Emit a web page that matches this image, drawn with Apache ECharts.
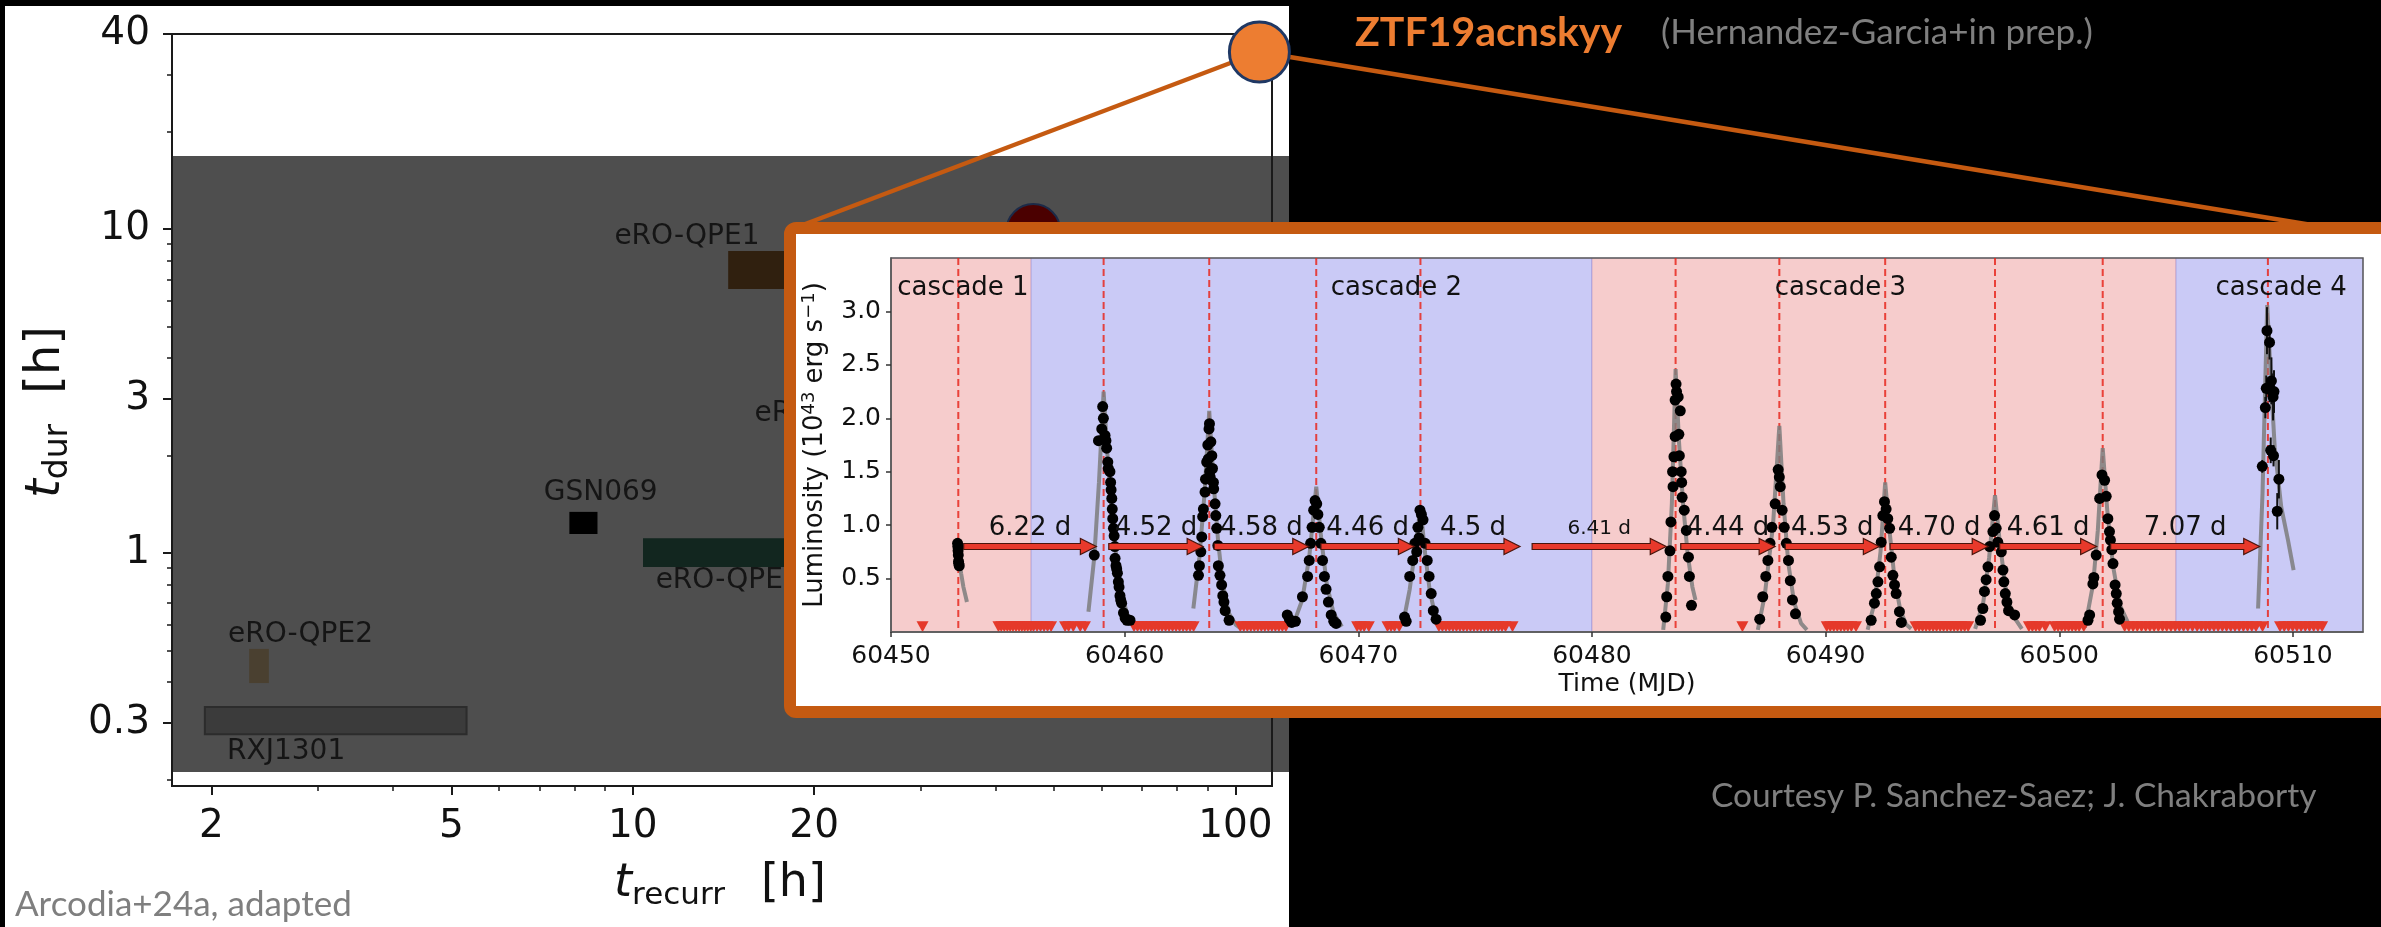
<!DOCTYPE html>
<html>
<head>
<meta charset="utf-8">
<title>QPE recurrence vs duration, with ZTF19acnskyy light curve</title>
<script src="https://cdn.jsdelivr.net/npm/echarts@6.0.0/dist/echarts.min.js"></script>
<style>
  html, body { margin: 0; padding: 0; background: #000; }
  #chart { width: 2381px; height: 927px; }
</style>
</head>
<body>
<div id="chart"></div>
<script>
// ---------- main panel: QPE sources in the t_recurr / t_dur plane ----------
const recurrTicks = [2, 5, 10, 20, 100];
const recurrMinorTicks = [3, 4, 6, 7, 8, 9, 30, 40, 50, 60, 70, 80, 90];
const durTicks = [0.3, 1, 3, 10, 40];
const durMinorTicks = [0.2, 0.4, 0.5, 0.6, 0.7, 0.8, 0.9, 2, 4, 5, 6, 7, 8, 9, 20, 30];

// boxes: [t_recurr low, t_recurr high] and [t_dur low, t_dur high], in hours
const sourceNames  = ['RXJ1301', 'eRO-QPE2', 'GSN069', 'eRO-QPE3', 'eRO-QPE1'];
const sourceRecurr = [[1.95, 5.30], [2.31, 2.49], [7.85, 8.74], [10.4, 25.0], [14.4, 26.0]];
const sourceDur    = [[0.276, 0.335], [0.397, 0.506], [1.145, 1.34], [0.905, 1.11], [6.53, 8.55]];

// name tags, anchored in data units
const tagNames  = ['RXJ1301', 'eRO-QPE2', 'GSN069', 'eRO-QPE3', 'eRO-QPE1', 'eRO-QPE4'];
const tagRecurr = [2.66, 2.81, 8.85, 14.4, 12.3, 21.0];
const tagDur    = [0.243, 0.558, 1.54, 0.82, 9.45, 2.70];

const discSource = [[46.2, 9.86]];      // dark red disc
const ztfSource  = [[109.6, 35.2]];     // ZTF19acnskyy

// ---------- inset: ZTF19acnskyy X-ray light curve ----------
const mjdTicks = [60450, 60460, 60470, 60480, 60490, 60500, 60510];
const lumTicks = [0.5, 1.0, 1.5, 2.0, 2.5, 3.0];

const cascadeNames  = ['cascade 1', 'cascade 2', 'cascade 3', 'cascade 4'];
const cascadeSpans  = [[60450, 60456], [60456, 60480], [60480, 60505], [60505, 60513]];
const cascadeTagMjd = [60453.08, 60471.63, 60490.63, 60509.50];
const cascadeTagLum = [3.22, 3.22, 3.22, 3.22];

const flarePeaks = [60452.88, 60459.10, 60463.62, 60468.20, 60472.66, 60483.58,
                    60488.02, 60492.55, 60497.25, 60501.86, 60508.93];

// waiting-time arrows: start, end, luminosity level, label level, label
const arrowStart = [60453.11, 60459.32, 60463.83, 60468.40, 60472.90, 60477.44,
                    60483.80, 60488.27, 60492.76, 60497.45, 60502.20];
const arrowEnd   = [60458.79, 60463.36, 60467.88, 60472.40, 60476.92, 60483.18,
                    60487.84, 60492.30, 60496.96, 60501.60, 60508.58];
const arrowLum   = [0.8, 0.8, 0.8, 0.8, 0.8, 0.8, 0.8, 0.8, 0.8, 0.8, 0.8];
const arrowTextLum = [0.97, 0.97, 0.97, 0.97, 0.97, 0.97, 0.97, 0.97, 0.97, 0.97, 0.97];
const arrowText  = ['6.22 d', '4.52 d', '4.58 d', '4.46 d', '4.5 d', '6.41 d',
                    '4.44 d', '4.53 d', '4.70 d', '4.61 d', '7.07 d'];

// detections [MJD, L (1e43 erg/s)]
const flare1 = [[60452.85,0.83],[60452.86,0.80],[60452.87,0.76],[60452.88,0.72],[60452.89,0.66],[60452.90,0.64],[60452.92,0.62]];
const flare2 = [[60458.70,0.72],[60458.88,1.79],[60459.02,1.90],[60459.06,2.11],[60459.09,2.00],[60459.16,1.84],[60459.20,1.79],
                [60459.23,1.72],[60459.28,1.59],[60459.30,1.53],[60459.37,1.50],[60459.40,1.40],[60459.42,1.33],[60459.45,1.25],
                [60459.47,1.15],[60459.49,1.06],[60459.52,0.97],[60459.55,0.90],[60459.58,0.80],[60459.59,0.69],[60459.63,0.62],
                [60459.66,0.59],[60459.69,0.55],[60459.73,0.47],[60459.76,0.42],[60459.80,0.34],[60459.83,0.30],[60459.87,0.27],
                [60459.95,0.18],[60460.02,0.13],[60460.10,0.11],[60460.23,0.11]];
const flare3 = [[60463.16,0.53],[60463.20,0.62],[60463.26,0.75],[60463.30,0.89],[60463.34,1.08],[60463.37,1.15],[60463.44,1.31],
                [60463.46,1.43],[60463.51,1.59],[60463.56,1.75],[60463.58,1.62],[60463.61,1.90],[60463.63,1.95],[60463.64,1.50],
                [60463.66,1.45],[60463.69,1.78],[60463.73,1.65],[60463.76,1.53],[60463.80,1.40],[60463.81,1.34],[60463.87,1.20],
                [60463.90,1.09],[60463.94,0.97],[60463.99,0.81],[60464.01,0.62],[60464.08,0.53],[60464.15,0.44],[60464.20,0.34],
                [60464.25,0.28],[60464.30,0.20],[60464.47,0.11]];
const flare4 = [[60466.96,0.16],[60467.05,0.12],[60467.15,0.09],[60467.31,0.10],[60467.61,0.33],[60467.83,0.52],[60467.90,0.67],
                [60467.96,0.83],[60468.02,0.98],[60468.09,1.14],[60468.15,1.23],[60468.22,1.20],[60468.27,1.10],[60468.33,0.98],
                [60468.40,0.83],[60468.47,0.67],[60468.55,0.52],[60468.62,0.40],[60468.72,0.28],[60468.84,0.16],[60468.95,0.10],
                [60469.05,0.08]];
const flare5 = [[60471.98,0.14],[60472.05,0.10],[60472.20,0.52],[60472.33,0.67],[60472.42,0.83],[60472.50,0.75],[60472.55,0.98],
                [60472.60,0.88],[60472.64,1.14],[60472.70,1.10],[60472.77,1.05],[60472.86,0.83],[60472.95,0.67],[60473.03,0.52],
                [60473.12,0.36],[60473.21,0.20],[60473.33,0.12]];
const flare6 = [[60483.16,0.14],[60483.20,0.33],[60483.25,0.52],[60483.34,0.76],[60483.38,1.03],[60483.45,1.50],[60483.47,1.36],
                [60483.51,1.64],[60483.56,1.83],[60483.56,2.17],[60483.60,2.32],[60483.62,2.25],[60483.69,2.20],[60483.72,1.85],
                [60483.74,1.65],[60483.78,2.07],[60483.82,1.50],[60483.84,1.40],[60483.86,1.26],[60483.95,1.14],[60484.04,0.95],
                [60484.13,0.70],[60484.17,0.52],[60484.26,0.25]];
const flare7 = [[60487.18,0.12],[60487.31,0.33],[60487.44,0.52],[60487.53,0.67],[60487.62,0.83],[60487.70,0.98],[60487.84,1.20],
                [60487.97,1.52],[60488.02,1.45],[60488.06,1.36],[60488.14,1.14],[60488.23,0.98],[60488.32,0.83],[60488.41,0.67],
                [60488.49,0.48],[60488.58,0.30],[60488.71,0.17]];
const flare8 = [[60491.95,0.11],[60492.09,0.27],[60492.17,0.36],[60492.24,0.47],[60492.31,0.61],[60492.38,0.84],[60492.45,1.09],
                [60492.52,1.22],[60492.59,1.15],[60492.66,1.06],[60492.74,0.97],[60492.81,0.70],[60492.88,0.53],[60492.95,0.44],
                [60493.02,0.36],[60493.16,0.19],[60493.24,0.09]];
const flare9 = [[60496.63,0.11],[60496.73,0.22],[60496.80,0.38],[60496.87,0.49],[60496.95,0.61],[60497.02,0.80],[60497.16,0.94],
                [60497.23,1.09],[60497.30,0.97],[60497.37,0.84],[60497.52,0.75],[60497.59,0.58],[60497.63,0.47],[60497.69,0.36],
                [60497.76,0.28],[60497.83,0.20],[60498.09,0.16]];
const flare10 = [[60501.23,0.11],[60501.30,0.16],[60501.44,0.45],[60501.48,0.51],[60501.58,0.72],[60501.73,1.25],[60501.83,1.47],
                 [60501.94,1.42],[60502.01,1.27],[60502.08,1.06],[60502.15,0.94],[60502.19,0.86],[60502.25,0.77],[60502.30,0.64],
                 [60502.39,0.44],[60502.44,0.36],[60502.48,0.27],[60502.54,0.19],[60502.58,0.12]];
// cascade 4 detections with 1-sigma errors: [MJD, L, err]
const flare11 = [[60508.69,1.55,0.06],[60508.82,2.10,0.10],[60508.86,2.28,0.12],[60508.89,2.82,0.22],[60509.00,2.71,0.16],
                 [60509.00,2.27,0.12],[60509.05,1.70,0.12],[60509.08,2.35,0.22],[60509.15,2.20,0.22],[60509.17,1.65,0.10],
                 [60509.19,2.25,0.20],[60509.33,1.13,0.17],[60509.40,1.43,0.18]];

// best-fit flare profiles [MJD, L]
const modelCurves = [
  [[60452.90,0.72],[60453.00,0.55],[60453.10,0.42],[60453.25,0.28]],
  [[60458.45,0.19],[60458.70,0.70],[60458.90,1.40],[60459.10,2.25],[60459.25,1.70],[60459.45,1.12],[60459.65,0.68],[60459.85,0.38],[60460.10,0.17],[60460.47,0.06]],
  [[60462.94,0.22],[60463.20,0.70],[60463.42,1.30],[60463.62,2.07],[60463.80,1.42],[60464.00,0.85],[60464.20,0.45],[60464.45,0.18],[60464.75,0.07],[60465.00,0.03]],
  [[60467.30,0.12],[60467.60,0.30],[60467.90,0.70],[60468.20,1.36],[60468.40,0.90],[60468.65,0.45],[60468.95,0.17],[60469.30,0.05]],
  [[60471.90,0.06],[60472.20,0.40],[60472.45,0.80],[60472.66,1.17],[60472.85,0.75],[60473.05,0.40],[60473.30,0.14],[60473.55,0.04]],
  [[60483.05,0.02],[60483.25,0.45],[60483.42,1.20],[60483.58,2.46],[60483.72,1.80],[60483.90,1.20],[60484.10,0.72],[60484.30,0.42],[60484.43,0.30]],
  [[60487.10,0.02],[60487.40,0.35],[60487.75,1.00],[60488.02,1.93],[60488.20,1.20],[60488.40,0.65],[60488.65,0.28],[60488.95,0.08],[60489.20,0.02]],
  [[60491.80,0.02],[60492.10,0.28],[60492.35,0.75],[60492.55,1.40],[60492.72,0.98],[60492.95,0.50],[60493.20,0.20],[60493.45,0.07],[60493.66,0.03]],
  [[60496.40,0.03],[60496.75,0.28],[60497.00,0.70],[60497.25,1.28],[60497.45,0.85],[60497.70,0.42],[60498.00,0.16],[60498.40,0.03]],
  [[60501.10,0.04],[60501.45,0.45],[60501.65,0.95],[60501.86,1.72],[60502.05,1.15],[60502.30,0.62],[60502.60,0.25],[60503.00,0.06]],
  [[60508.51,0.22],[60508.70,1.30],[60508.90,3.06],[60509.05,2.40],[60509.22,1.73],[60509.50,1.17],[60509.79,0.86],[60510.03,0.58]]
];

// non-detections (upper limits)
const upperLimitMjd = [
  60451.35,
  60454.60, 60454.72, 60454.85, 60454.98, 60455.10, 60455.22, 60455.35, 60455.48, 60455.60, 60455.72, 60455.85, 60455.98, 60456.10,
  60456.25, 60456.40, 60456.55, 60456.70, 60456.85,
  60457.45, 60457.60, 60457.80, 60458.10, 60458.30,
  60460.40, 60460.55, 60460.70, 60460.85, 60461.00, 60461.15, 60461.30, 60461.45, 60461.60, 60461.75, 60461.90, 60462.05,
  60462.20, 60462.35, 60462.50, 60462.65, 60462.80, 60462.95,
  60464.95, 60465.10, 60465.25, 60465.40, 60465.55, 60465.70, 60465.85, 60466.00, 60466.15, 60466.30, 60466.45, 60466.60,
  60466.75, 60466.90,
  60469.95, 60470.10, 60470.25, 60470.45, 60471.25, 60471.40, 60471.55, 60471.75,
  60473.45, 60473.60, 60473.75, 60473.90, 60474.05, 60474.20, 60474.35, 60474.50, 60474.65, 60474.80, 60474.95, 60475.10,
  60475.25, 60475.40, 60475.55, 60475.70, 60475.85, 60476.00, 60476.15, 60476.30, 60476.60,
  60486.44,
  60490.05, 60490.20, 60490.35, 60490.50, 60490.65, 60490.80, 60490.95, 60491.10, 60491.30,
  60493.85, 60494.00, 60494.15, 60494.30, 60494.45, 60494.60, 60494.75, 60494.90, 60495.05, 60495.20, 60495.35, 60495.50,
  60495.65, 60495.80, 60495.95, 60496.10,
  60498.70, 60498.85, 60499.00, 60499.15, 60499.40, 60499.80, 60499.95, 60500.10, 60500.25, 60500.40, 60500.55, 60500.70,
  60500.85, 60501.05,
  60502.80, 60502.98, 60503.16, 60503.34, 60503.52, 60503.70, 60503.88, 60504.06, 60504.24, 60504.42, 60504.60, 60504.78,
  60504.96, 60505.14, 60505.32, 60505.50, 60505.70,
  60505.90, 60506.08, 60506.26, 60506.44, 60506.62, 60506.80, 60506.98, 60507.16, 60507.34, 60507.52, 60507.70, 60507.88,
  60508.06, 60508.24, 60508.42, 60508.70,
  60509.45, 60509.63, 60509.81, 60509.99, 60510.17, 60510.35, 60510.53, 60510.71, 60510.89, 60511.07, 60511.25
];
const upperLimitLum = 0.05;

// ---------- styles ----------
const FONT = 'DejaVu Sans';
const NOTE_FONT = 'Lato';
const ORANGE = '#ed7d31';
const BORDER_ORANGE = '#c55a11';
const sourceFill = { 'RXJ1301': '#3b3b3b', 'eRO-QPE2': '#4a4030', 'GSN069': '#000000', 'eRO-QPE3': '#12261f', 'eRO-QPE1': '#30200f' };
const sourceStroke = { 'RXJ1301': '#2c2c2c' };
const spanFill = ['#f6cccc', '#cacaf6', '#f6cccc', '#cacaf6'];
const smallArrowLabel = { '6.41 d': 20 };

const chart = echarts.init(document.getElementById('chart'), null, { renderer: 'canvas', width: 2381, height: 927 });

const fmtNum = v => String(+Number(v).toPrecision(3));

function logAxisBase(extra) {
  return Object.assign({
    type: 'log', logBase: 10, splitLine: { show: false }, minorTick: { show: false },
    axisLine: { show: true, lineStyle: { color: '#1a1a1a', width: 2 } },
    z: 1, silent: true
  }, extra);
}

const flareDetections = [].concat(flare1, flare2, flare3, flare4, flare5, flare6, flare7, flare8, flare9, flare10,
                                  flare11.map(d => [d[0], d[1]]));

const option = {
  backgroundColor: '#000000',
  animation: false,
  textStyle: { fontFamily: FONT },
  grid: [
    { left: 172, top: 34, width: 1100, height: 752, show: true, borderColor: '#1a1a1a', borderWidth: 2,
      backgroundColor: 'transparent', containLabel: false, outerBoundsMode: 'none', z: 0 },
    { left: 891, top: 258, width: 1472, height: 374, show: true, borderColor: '#5a5a5a', borderWidth: 1.5,
      backgroundColor: 'transparent', containLabel: false, outerBoundsMode: 'none', z: 52 }
  ],
  xAxis: [
    logAxisBase({
      gridIndex: 0, position: 'bottom', min: 1.72, max: 115,
      axisTick: { show: true, customValues: recurrTicks, length: 9, lineStyle: { color: '#1a1a1a', width: 2 } },
      axisLabel: { show: true, customValues: recurrTicks, formatter: fmtNum, fontSize: 39, color: '#111', margin: 21, fontFamily: FONT }
    }),
    logAxisBase({
      gridIndex: 0, position: 'bottom', min: 1.72, max: 115,
      axisLine: { show: false },
      axisTick: { show: true, customValues: recurrMinorTicks, length: 5, lineStyle: { color: '#1a1a1a', width: 1.5 } },
      axisLabel: { show: false }
    }),
    {
      type: 'value', gridIndex: 1, position: 'bottom', min: 60450, max: 60513, z: 60, silent: true,
      splitLine: { show: false },
      axisLine: { show: true, lineStyle: { color: '#5a5a5a', width: 1.5 } },
      axisTick: { show: true, customValues: mjdTicks, length: 5, lineStyle: { color: '#333', width: 1.5 } },
      axisLabel: { show: true, customValues: mjdTicks, fontSize: 25, color: '#111', margin: 12, fontFamily: FONT,
                   formatter: v => String(Math.round(v)) },
      name: 'Time (MJD)', nameLocation: 'middle', nameGap: 40,
      nameTextStyle: { fontSize: 25, color: '#111', fontFamily: FONT }
    }
  ],
  yAxis: [
    logAxisBase({
      gridIndex: 0, position: 'left', min: 0.191, max: 40,
      axisTick: { show: true, customValues: durTicks, length: 9, lineStyle: { color: '#1a1a1a', width: 2 } },
      axisLabel: { show: true, customValues: durTicks, formatter: fmtNum, fontSize: 39, color: '#111', margin: 22, fontFamily: FONT }
    }),
    logAxisBase({
      gridIndex: 0, position: 'left', min: 0.191, max: 40,
      axisLine: { show: false },
      axisTick: { show: true, customValues: durMinorTicks, length: 5, lineStyle: { color: '#1a1a1a', width: 1.5 } },
      axisLabel: { show: false }
    }),
    {
      type: 'value', gridIndex: 1, position: 'left', min: 0, max: 3.5, z: 60, silent: true,
      splitLine: { show: false },
      axisLine: { show: true, lineStyle: { color: '#5a5a5a', width: 1.5 } },
      axisTick: { show: true, customValues: lumTicks, length: 5, lineStyle: { color: '#333', width: 1.5 } },
      axisLabel: { show: true, customValues: lumTicks, fontSize: 25, color: '#111', margin: 10, fontFamily: FONT,
                   formatter: v => Number(v).toFixed(1) },
      name: 'Luminosity (10{sup|43} erg s{sup|\u22121})', nameLocation: 'middle', nameGap: 58, nameRotate: 90,
      nameTextStyle: {
        fontSize: 26, color: '#111', fontFamily: FONT, lineHeight: 30,
        rich: { sup: { fontSize: 18, fontFamily: FONT, color: '#111', lineHeight: 18, verticalAlign: 'top' } }
      }
    }
  ],
  graphic: {
    elements: [
      { id: 'panel', type: 'rect', z: -20, silent: true,
        shape: { x: 5, y: 6, width: 1284, height: 921 }, style: { fill: '#ffffff' } },
      { id: 'shade', type: 'rect', z: -10, silent: true,
        shape: { x: 172, y: 156, width: 1117, height: 616 }, style: { fill: '#4e4e4e' } },
      { id: 'inset-frame', type: 'rect', z: 50, silent: true,
        shape: { x: 790, y: 228, width: 1610, height: 484, r: 6 },
        style: { fill: '#ffffff', stroke: BORDER_ORANGE, lineWidth: 12 } },
      { id: 'ytitle', type: 'text', z: 5, silent: true, x: 47, y: 412, rotation: Math.PI / 2,
        style: {
          text: '{t|t}{s|dur}{g|}{h|[h]}', align: 'center', verticalAlign: 'middle', fill: '#111',
          rich: {
            t: { fontSize: 48, fontStyle: 'italic', fontFamily: FONT, lineHeight: 56, verticalAlign: 'middle', fill: '#111' },
            s: { fontSize: 33, fontFamily: FONT, lineHeight: 22, verticalAlign: 'bottom', fill: '#111' },
            g: { width: 30, lineHeight: 56 },
            h: { fontSize: 48, fontFamily: FONT, lineHeight: 56, verticalAlign: 'middle', fill: '#111' }
          }
        } },
      { id: 'xtitle', type: 'text', z: 5, silent: true, x: 720, y: 884,
        style: {
          text: '{t|t}{s|recurr}{g|}{h|[h]}', align: 'center', verticalAlign: 'middle', fill: '#111',
          rich: {
            t: { fontSize: 46, fontStyle: 'italic', fontFamily: FONT, lineHeight: 54, verticalAlign: 'middle', fill: '#111' },
            s: { fontSize: 31, fontFamily: FONT, lineHeight: 20, verticalAlign: 'bottom', fill: '#111' },
            g: { width: 36, lineHeight: 54 },
            h: { fontSize: 46, fontFamily: FONT, lineHeight: 54, verticalAlign: 'middle', fill: '#111' }
          }
        } },
      { id: 'ztf-name', type: 'text', z: 60, silent: true, x: 1355, y: 33,
        style: { text: 'ZTF19acnskyy', font: 'bold 41px ' + NOTE_FONT, fill: ORANGE, align: 'left', verticalAlign: 'middle' } },
      { id: 'ztf-ref', type: 'text', z: 60, silent: true, x: 1661, y: 33,
        style: { text: '(Hernandez-Garcia+in prep.)', font: '35px ' + NOTE_FONT, fill: '#7f7f7f', align: 'left', verticalAlign: 'middle' } },
      { id: 'courtesy', type: 'text', z: 60, silent: true, x: 1711, y: 796,
        style: { text: 'Courtesy P. Sanchez-Saez; J. Chakraborty', font: '33.5px ' + NOTE_FONT, fill: '#7f7f7f', align: 'left', verticalAlign: 'middle' } },
      { id: 'credit', type: 'text', z: 60, silent: true, x: 15, y: 905,
        style: { text: 'Arcodia+24a, adapted', font: '35px ' + NOTE_FONT, fill: '#7f7f7f', align: 'left', verticalAlign: 'middle' } }
    ]
  },
  series: [
    // source boxes
    {
      name: 'sources', type: 'custom', xAxisIndex: 0, yAxisIndex: 0, z: 3, silent: true,
      data: sourceNames.map((n, i) => [sourceRecurr[i][0], sourceDur[i][0], sourceRecurr[i][1], sourceDur[i][1]]),
      encode: { x: [0, 2], y: [1, 3] },
      renderItem: (params, api) => {
        const name = sourceNames[params.dataIndex];
        const p0 = api.coord([api.value(0), api.value(3)]);
        const p1 = api.coord([api.value(2), api.value(1)]);
        return {
          type: 'rect',
          shape: { x: p0[0], y: p0[1], width: p1[0] - p0[0], height: p1[1] - p0[1] },
          style: { fill: sourceFill[name], stroke: sourceStroke[name] || null, lineWidth: sourceStroke[name] ? 2 : 0 }
        };
      }
    },
    // source name tags
    {
      name: 'source tags', type: 'custom', xAxisIndex: 0, yAxisIndex: 0, z: 4, silent: true,
      data: tagNames.map((n, i) => [tagRecurr[i], tagDur[i]]),
      renderItem: (params, api) => {
        const p = api.coord([api.value(0), api.value(1)]);
        return {
          type: 'text', x: p[0], y: p[1],
          style: { text: tagNames[params.dataIndex], font: '28px ' + FONT, fill: '#151515', align: 'center', verticalAlign: 'middle' }
        };
      }
    },
    {
      name: 'disc', type: 'scatter', xAxisIndex: 0, yAxisIndex: 0, z: 3, silent: true, clip: false,
      data: discSource, symbol: 'circle', symbolSize: 54,
      itemStyle: { color: '#4b0000', borderColor: '#1c2a48', borderWidth: 2, opacity: 1 }
    },
    {
      name: 'ZTF19acnskyy', type: 'scatter', xAxisIndex: 0, yAxisIndex: 0, z: 45, silent: true, clip: false,
      data: ztfSource, symbol: 'circle', symbolSize: 60,
      itemStyle: { color: ORANGE, borderColor: '#1f3864', borderWidth: 3, opacity: 1 }
    },
    // cascade spans
    {
      name: 'cascades', type: 'custom', xAxisIndex: 2, yAxisIndex: 2, z: 51, silent: true,
      data: cascadeSpans.map(s => [s[0], s[1]]),
      encode: { x: [0, 1] },
      renderItem: (params, api) => {
        const cs = params.coordSys;
        const a = api.coord([api.value(0), 0]);
        const b = api.coord([api.value(1), 0]);
        return {
          type: 'rect',
          shape: { x: a[0], y: cs.y, width: b[0] - a[0], height: cs.height },
          style: { fill: spanFill[params.dataIndex], stroke: 'rgba(120,100,190,0.35)', lineWidth: 1 }
        };
      }
    },
    // flare peak times
    {
      name: 'peaks', type: 'custom', xAxisIndex: 2, yAxisIndex: 2, z: 53, silent: true,
      data: flarePeaks.map(t => [t]),
      encode: { x: 0 },
      renderItem: (params, api) => {
        const cs = params.coordSys;
        const x = api.coord([api.value(0), 0])[0];
        return {
          type: 'line',
          shape: { x1: x, y1: cs.y, x2: x, y2: cs.y + cs.height },
          style: { stroke: 'rgba(232,40,30,0.85)', lineWidth: 2, lineDash: [7, 4] }
        };
      }
    },
    // fitted flare profiles
    ...modelCurves.map((c, i) => ({
      name: 'model ' + (i + 1), type: 'line', xAxisIndex: 2, yAxisIndex: 2, z: 54, silent: true,
      data: c, showSymbol: false, symbol: 'none',
      lineStyle: { color: 'rgba(125,125,125,0.85)', width: 4 }
    })),
    // upper limits
    {
      name: 'upper limits', type: 'scatter', xAxisIndex: 2, yAxisIndex: 2, z: 55, silent: true,
      data: upperLimitMjd.map(t => [t, upperLimitLum]),
      symbol: 'path://M0,0L10,0L5,9Z', symbolSize: [12, 11],
      itemStyle: { color: '#e5392a', opacity: 1 }
    },
    // error bars for cascade 4
    {
      name: 'errors', type: 'custom', xAxisIndex: 2, yAxisIndex: 2, z: 55, silent: true,
      data: flare11,
      renderItem: (params, api) => {
        const lo = api.coord([api.value(0), api.value(1) - api.value(2)]);
        const hi = api.coord([api.value(0), api.value(1) + api.value(2)]);
        return { type: 'line', shape: { x1: lo[0], y1: lo[1], x2: hi[0], y2: hi[1] }, style: { stroke: '#111', lineWidth: 2 } };
      }
    },
    // detections
    {
      name: 'detections', type: 'scatter', xAxisIndex: 2, yAxisIndex: 2, z: 56, silent: true,
      data: flareDetections, symbol: 'circle', symbolSize: 11,
      itemStyle: { color: '#000000', opacity: 1 }
    },
    // waiting-time arrows
    {
      name: 'arrows', type: 'custom', xAxisIndex: 2, yAxisIndex: 2, z: 57, silent: true,
      data: arrowStart.map((s, i) => [s, arrowEnd[i], arrowLum[i], arrowTextLum[i]]),
      encode: { x: [0, 1], y: 2 },
      renderItem: (params, api) => {
        const a = api.coord([api.value(0), api.value(2)]);
        const b = api.coord([api.value(1), api.value(2)]);
        const t = api.coord([(api.value(0) + api.value(1)) / 2, api.value(3)]);
        const y = a[1], x0 = a[0], x1 = b[0];
        const hl = 16, hw = 8, sw = 3;
        const label = arrowText[params.dataIndex];
        return {
          type: 'group',
          children: [
            { type: 'polygon',
              shape: { points: [[x0, y - sw], [x1 - hl, y - sw], [x1 - hl, y - hw], [x1, y], [x1 - hl, y + hw], [x1 - hl, y + sw], [x0, y + sw]] },
              style: { fill: '#e8392b', stroke: '#4a150c', lineWidth: 1.2 } },
            { type: 'text', x: t[0], y: t[1],
              style: { text: label, font: (smallArrowLabel[label] || 26) + 'px ' + FONT, fill: '#111', align: 'center', verticalAlign: 'middle' } }
          ]
        };
      }
    },
    // cascade labels
    {
      name: 'cascade tags', type: 'custom', xAxisIndex: 2, yAxisIndex: 2, z: 58, silent: true,
      data: cascadeTagMjd.map((t, i) => [t, cascadeTagLum[i]]),
      renderItem: (params, api) => {
        const p = api.coord([api.value(0), api.value(1)]);
        return {
          type: 'text', x: p[0], y: p[1],
          style: { text: cascadeNames[params.dataIndex], font: '26px ' + FONT, fill: '#111', align: 'center', verticalAlign: 'middle' }
        };
      }
    }
  ]
};

chart.setOption(option);

// leader lines from the ZTF19acnskyy marker to the inset's top corners
const ztfSeriesIndex = option.series.findIndex(s => s.name === 'ZTF19acnskyy');
const c = chart.convertToPixel({ seriesIndex: ztfSeriesIndex }, ztfSource[0]);
chart.setOption({
  graphic: {
    elements: [
      { id: 'lead-left', type: 'line', z: 40, silent: true,
        shape: { x1: c[0], y1: c[1], x2: 800, y2: 226 }, style: { stroke: BORDER_ORANGE, lineWidth: 4.5 } },
      { id: 'lead-right', type: 'line', z: 40, silent: true,
        shape: { x1: c[0], y1: c[1], x2: 2330, y2: 228 }, style: { stroke: BORDER_ORANGE, lineWidth: 4.5 } }
    ]
  }
});
</script>
</body>
</html>
